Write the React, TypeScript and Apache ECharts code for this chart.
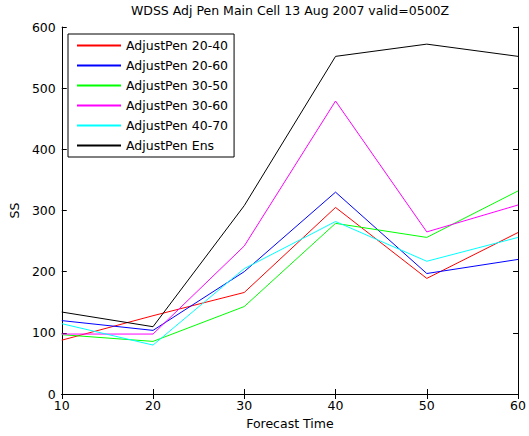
import React, { useEffect, useRef } from "react";
import * as echarts from "echarts";

const forecastTimes = [10, 20, 30, 40, 50, 60];
const seriesNames = [
  "AdjustPen 20-40",
  "AdjustPen 20-60",
  "AdjustPen 30-50",
  "AdjustPen 30-60",
  "AdjustPen 40-70",
  "AdjustPen Ens",
];
const pen2040 = [88, 128, 166, 305, 189, 264];
const pen2060 = [120, 104, 200, 330, 197, 220];
const pen3050 = [97, 86, 143, 279, 256, 332];
const pen3060 = [98, 98, 242, 479, 265, 309];
const pen4070 = [115, 80, 205, 282, 217, 256];
const penEns = [134, 110, 308, 552, 572, 552];
const colors = ["#ff0000", "#0000ff", "#00ff00", "#ff00ff", "#00ffff", "#000000"];
const yTicks = [0, 100, 200, 300, 400, 500, 600];

const FONT = "DejaVu Sans, Liberation Sans, Arial, sans-serif";
const FS = 12.5;

export default function App() {
  const ref = useRef<HTMLDivElement>(null);
  useEffect(() => {
    if (!ref.current) return;
    const chart = echarts.init(ref.current, undefined, { renderer: "svg" });
    const all = [pen2040, pen2060, pen3050, pen3060, pen4070, penEns];
    const axisCommon = {
      type: "value" as const,
      axisLine: { show: true, lineStyle: { color: "#000", width: 1 } },
      axisTick: { show: true, inside: true, length: 5, lineStyle: { color: "#000" } },
      splitLine: { show: false },
    };
    chart.setOption({
      animation: false,
      backgroundColor: "#fff",
      textStyle: { fontFamily: FONT },
      grid: { left: 59, right: 5, top: 27, bottom: 42 },
      graphic: [
        {
          type: "text",
          x: 290,
          y: 4,
          style: {
            text: "WDSS Adj Pen Main Cell 13 Aug 2007 valid=0500Z",
            font: `${FS}px ${FONT}`,
            fill: "#000",
            textAlign: "center",
          },
        },
      ],
      xAxis: [
        {
          ...axisCommon,
          min: 10,
          max: 60,
          interval: 10,
          position: "bottom",
          axisLabel: { color: "#000", fontSize: FS, fontFamily: FONT, margin: 5 },
          name: "Forecast Time",
          nameLocation: "middle",
          nameGap: 23,
          nameTextStyle: { color: "#000", fontSize: FS, fontFamily: FONT },
        },
        {
          ...axisCommon,
          min: 10,
          max: 60,
          interval: 10,
          position: "top",
          axisLabel: { show: false },
        },
      ],
      yAxis: [
        {
          ...axisCommon,
          min: yTicks[0],
          max: yTicks[yTicks.length - 1],
          interval: 100,
          position: "left",
          axisLabel: { color: "#000", fontSize: FS, fontFamily: FONT, margin: 6 },
          name: "SS",
          nameLocation: "middle",
          nameGap: 40,
          nameTextStyle: { color: "#000", fontSize: FS, fontFamily: FONT },
        },
        {
          ...axisCommon,
          min: yTicks[0],
          max: yTicks[yTicks.length - 1],
          interval: 100,
          position: "right",
          axisLabel: { show: false },
        },
      ],
      legend: {
        show: true,
        orient: "vertical",
        left: 68,
        top: 34,
        padding: [5, 6, 5, 8],
        itemGap: 7,
        itemWidth: 44,
        itemHeight: 14,
        borderColor: "#000",
        borderWidth: 1,
        backgroundColor: "#fff",
        itemStyle: { opacity: 0 },
        textStyle: { color: "#000", fontSize: FS, fontFamily: FONT },
        data: seriesNames,
      },
      series: seriesNames.map((name, i) => ({
        name,
        type: "line",
        xAxisIndex: 0,
        yAxisIndex: 0,
        data: forecastTimes.map((t, j) => [t, all[i][j]]),
        symbol: "none",
        lineStyle: { color: colors[i], width: 1 },
        itemStyle: { color: colors[i] },
        z: i === 5 ? 3 : 2,
      })),
    });
    return () => chart.dispose();
  }, []);
  return (
    <div
      ref={ref}
      style={{ position: "fixed", left: 0, top: 0, width: 529, height: 436, background: "#fff" }}
    />
  );
}
